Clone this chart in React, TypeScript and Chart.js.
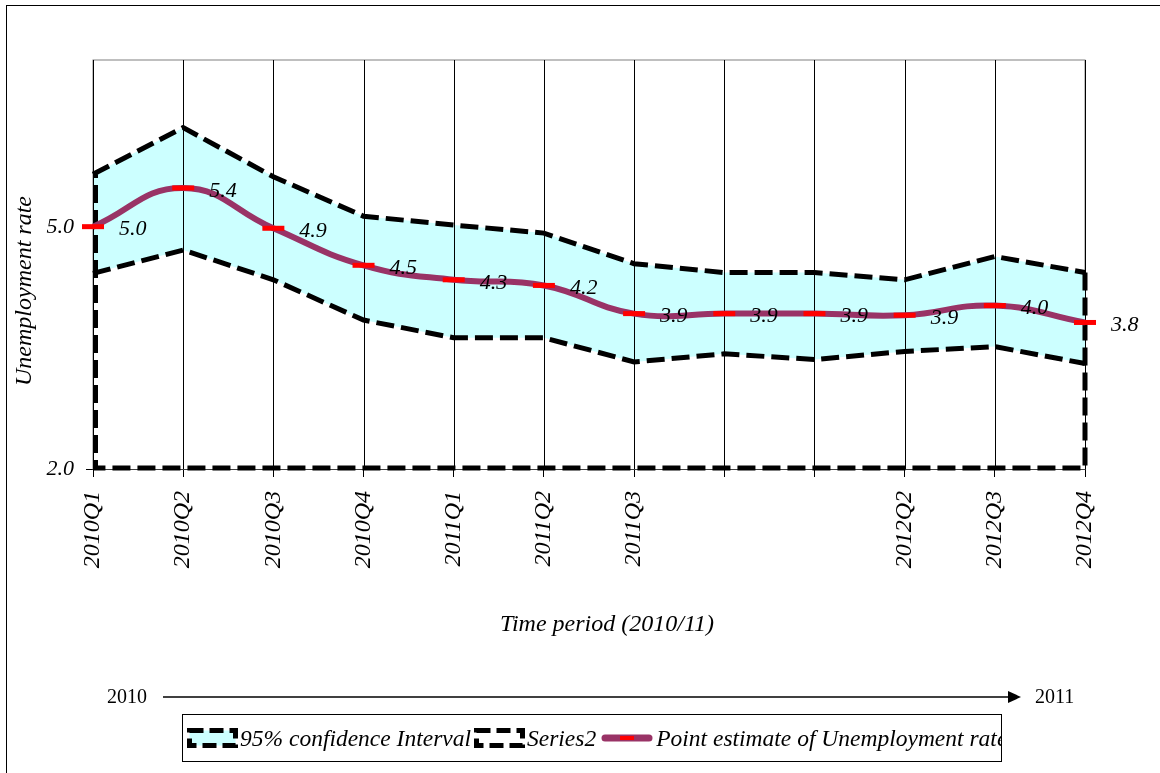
import React, { useEffect, useRef } from "react";
import { Chart, registerables } from "chart.js";

Chart.register(...registerables);

// ---- data ----
const categories = ["2010Q1", "2010Q2", "2010Q3", "2010Q4", "2011Q1", "2011Q2", "2011Q3", "", "", "2012Q2", "2012Q3", "2012Q4"];
const pointEstimate = [5.01, 5.49, 4.99, 4.53, 4.35, 4.28, 3.93, 3.93, 3.93, 3.91, 4.03, 3.82];
const pointLabels = ["5.0", "5.4", "4.9", "4.5", "4.3", "4.2", "3.9", "3.9", "3.9", "3.9", "4.0", "3.8"];
const upperCI = [5.66, 6.24, 5.63, 5.14, 5.03, 4.93, 4.55, 4.44, 4.44, 4.35, 4.64, 4.44];
const lowerCI = [4.43, 4.72, 4.35, 3.85, 3.63, 3.63, 3.33, 3.43, 3.36, 3.46, 3.52, 3.31];
const yTickValues = [2.0, 5.0];
const yMin = 2;
const yMax = 7.08;

const SERIF = "'Liberation Serif', 'Times New Roman', serif";

export default function App() {
  const ref = useRef<HTMLCanvasElement>(null);

  useEffect(() => {
    const canvas = ref.current;
    if (!canvas) return;

    const decor = {
      id: "decor",
      beforeDatasetsDraw(chart: any) {
        const { ctx, chartArea: a } = chart;
        ctx.save();
        ctx.strokeStyle = "#808080";
        ctx.lineWidth = 1;
        ctx.strokeRect(a.left, a.top, a.right - a.left, a.bottom - a.top);
        ctx.restore();
      },
      afterDatasetDraw(chart: any, args: any) {
        if (args.index !== 1) return;
        const { ctx, chartArea: a } = chart;
        const xs = chart.scales.x;
        const ys = chart.scales.y;
        const base = ys.getPixelForValue(ys.min) - 1;
        ctx.save();
        ctx.strokeStyle = "#000";
        ctx.lineWidth = 5;
        ctx.setLineDash([18, 7]);
        const pts = chart.getDatasetMeta(2).data;
        const first = pts[0];
        const last = pts[pts.length - 1];
        ctx.beginPath();
        ctx.moveTo(last.x, last.y);
        ctx.lineTo(last.x, base);
        ctx.lineTo(first.x + 2.5, base);
        ctx.lineTo(first.x + 2.5, first.y);
        ctx.stroke();
        ctx.setLineDash([]);
        ctx.lineWidth = 1;
        ctx.strokeStyle = "#000";
        for (let i = 0; i < xs.ticks.length; i++) {
          const px = Math.round(xs.getPixelForTick(i)) + 0.5;
          ctx.beginPath();
          ctx.moveTo(px, a.top);
          ctx.lineTo(px, a.bottom);
          ctx.stroke();
        }
        ctx.restore();
      },
      afterDatasetsDraw(chart: any) {
        const { ctx } = chart;
        const pts = chart.getDatasetMeta(0).data;
        ctx.save();
        ctx.fillStyle = "#000";
        ctx.font = `italic 22px ${SERIF}`;
        ctx.textAlign = "left";
        ctx.textBaseline = "middle";
        pts.forEach((p: any, i: number) => {
          ctx.fillText(pointLabels[i], p.x + 26, p.y + 3);
        });
        ctx.font = `italic 24px ${SERIF}`;
        ctx.textAlign = "center";
        ctx.fillText("Time period (2010/11)", 607, 625);
        ctx.translate(25, 291);
        ctx.rotate(-Math.PI / 2);
        ctx.fillText("Unemployment rate", 0, 0);
        ctx.restore();
      },
    };

    const chart = new Chart(canvas, {
      type: "line",
      data: {
        labels: categories,
        datasets: [
          {
            label: "Point estimate of Unemployment rate",
            data: pointEstimate,
            borderColor: "#993366",
            borderWidth: 6,
            tension: 0.45,
            fill: false,
            pointStyle: "line",
            pointRadius: 11,
            pointBorderWidth: 5,
            pointBorderColor: "#FF0000",
            pointBackgroundColor: "#FF0000",
            clip: false as any,
          },
          {
            label: "Series2",
            data: lowerCI,
            borderColor: "#000",
            borderWidth: 5,
            borderDash: [18, 7],
            backgroundColor: "#FFFFFF",
            fill: "start",
            tension: 0,
            pointRadius: 0,
          },
          {
            label: "95% confidence Interval",
            data: upperCI,
            borderColor: "#000",
            borderWidth: 5,
            borderDash: [18, 7],
            backgroundColor: "#CCFFFF",
            fill: "start",
            tension: 0,
            pointRadius: 0,
          },
        ],
      },
      options: {
        responsive: false,
        animation: false,
        layout: { padding: { left: 0, top: 60, right: 75, bottom: 0 } },
        plugins: {
          legend: { display: false },
          tooltip: { enabled: false },
          title: { display: false },
        },
        scales: {
          x: {
            offset: false,
            grid: {
              display: true,
              drawOnChartArea: false,
              drawTicks: true,
              tickLength: 8,
              color: "#000",
              lineWidth: 1,
            },
            border: { display: true, color: "#000", width: 1 },
            ticks: {
              autoSkip: false,
              minRotation: 90,
              maxRotation: 90,
              padding: 14,
              color: "#000",
              font: { family: SERIF, size: 24, style: "italic" },
            },
            afterFit: (s: any) => {
              s.height = 304;
            },
          },
          y: {
            min: yMin,
            max: yMax,
            grid: {
              display: true,
              drawOnChartArea: false,
              drawTicks: true,
              tickLength: 7,
              color: "#000",
            },
            border: { display: true, color: "#000", width: 1 },
            afterBuildTicks: (s: any) => {
              s.ticks = yTickValues.map((v) => ({ value: v }));
            },
            ticks: {
              padding: 12,
              color: "#000",
              font: { family: SERIF, size: 22, style: "italic" },
              callback: (v: any) => Number(v).toFixed(1),
            },
            afterFit: (s: any) => {
              s.width = 93;
            },
          },
        },
      },
      plugins: [decor],
    });

    return () => chart.destroy();
  }, []);

  const legendText: React.CSSProperties = {
    fontFamily: SERIF,
    fontStyle: "italic",
    fontSize: 23.5,
    whiteSpace: "nowrap",
    color: "#000",
  };

  return (
    <div style={{ position: "absolute", left: 0, top: 0, width: 1160, height: 773, overflow: "hidden", background: "#fff" }}>
      <canvas ref={ref} width={1160} height={773} style={{ position: "absolute", left: 0, top: 0, display: "block" }} />
      <div style={{ position: "absolute", left: 6, top: 5, width: 1200, height: 800, border: "1.5px solid #000", pointerEvents: "none" }} />
      <svg width={1160} height={40} style={{ position: "absolute", left: 0, top: 677 }}>
        <text x={107} y={26} fontFamily={SERIF} fontSize={20} fill="#000">2010</text>
        <line x1={163} y1={20} x2={1010} y2={20} stroke="#000" strokeWidth={1.5} />
        <polygon points="1008,14 1021,20 1008,26" fill="#000" />
        <text x={1035} y={26} fontFamily={SERIF} fontSize={20} fill="#000">2011</text>
      </svg>
      <div
        style={{
          position: "absolute",
          left: 182,
          top: 714,
          width: 818,
          height: 46,
          border: "1.5px solid #000",
          overflow: "hidden",
          display: "flex",
          alignItems: "center",
          background: "#fff",
        }}
      >
        <svg width={51} height={20} style={{ marginLeft: 4, flex: "none" }}>
          <rect x={2.5} y={2.5} width={46} height={15} fill="#CCFFFF" stroke="#000" strokeWidth={5} strokeDasharray="14 6" />
        </svg>
        <span style={{ ...legendText, marginLeft: 2 }}>95% confidence Interval</span>
        <svg width={51} height={20} style={{ marginLeft: 3, flex: "none" }}>
          <rect x={2.5} y={2.5} width={46} height={15} fill="#FFFFFF" stroke="#000" strokeWidth={5} strokeDasharray="14 6" />
        </svg>
        <span style={{ ...legendText, marginLeft: 2 }}>Series2</span>
        <svg width={52} height={20} style={{ marginLeft: 5, flex: "none" }}>
          <line x1={4} y1={10} x2={48} y2={10} stroke="#993366" strokeWidth={7} strokeLinecap="round" />
          <line x1={19} y1={10} x2={33} y2={10} stroke="#FF0000" strokeWidth={4} />
        </svg>
        <span style={{ ...legendText, marginLeft: 3 }}>Point estimate of Unemployment rate</span>
      </div>
    </div>
  );
}
